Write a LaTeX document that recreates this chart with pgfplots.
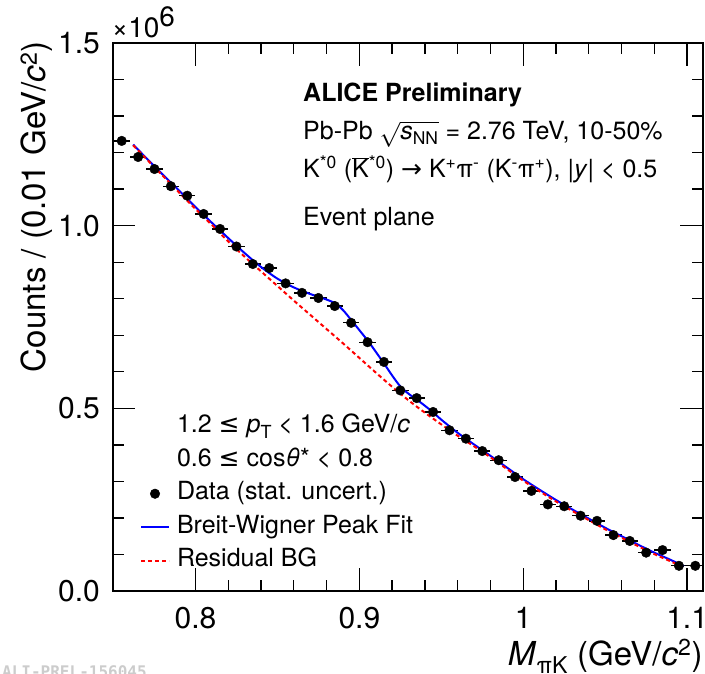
\documentclass[border=0pt]{standalone}
\usepackage{fontspec}
\setmainfont{TeX Gyre Heros}
\newfontfamily\sym{DejaVu Sans}
\newfontfamily\monof{DejaVu Sans Mono}
\usepackage{pgfplots}
\usepackage{pgfplotstable}
\pgfplotsset{compat=1.18}

\pgfplotstableread{
x y
0.755 1.232
0.765 1.188
0.775 1.155
0.785 1.108
0.795 1.082
0.805 1.032
0.815 0.991
0.825 0.943
0.835 0.895
0.845 0.884
0.855 0.842
0.865 0.816
0.875 0.802
0.885 0.780
0.895 0.734
0.905 0.681
0.915 0.627
0.925 0.549
0.935 0.528
0.945 0.490
0.955 0.440
0.965 0.417
0.975 0.383
0.985 0.358
0.995 0.312
1.005 0.274
1.015 0.237
1.025 0.232
1.035 0.206
1.045 0.192
1.055 0.153
1.065 0.137
1.075 0.105
1.085 0.112
1.095 0.069
1.105 0.069
}\datatable

\pgfplotstableread{
x y
0.762 1.222
0.770 1.185
0.780 1.140
0.790 1.096
0.800 1.051
0.810 1.008
0.820 0.966
0.830 0.925
0.840 0.887
0.850 0.855
0.860 0.831
0.870 0.813
0.878 0.801
0.885 0.788
0.890 0.769
0.895 0.742
0.900 0.714
0.905 0.686
0.910 0.655
0.915 0.623
0.920 0.590
0.925 0.560
0.930 0.540
0.935 0.524
0.940 0.507
0.945 0.489
0.950 0.469
0.960 0.433
0.970 0.401
0.980 0.370
0.990 0.338
1.000 0.306
1.010 0.277
1.020 0.249
1.030 0.223
1.040 0.198
1.050 0.173
1.060 0.150
1.070 0.127
1.080 0.105
1.090 0.085
1.098 0.068
}\fittable

\pgfplotstableread{
x y
0.762 1.220
0.770 1.183
0.780 1.137
0.790 1.091
0.800 1.046
0.810 1.002
0.820 0.957
0.830 0.915
0.840 0.875
0.850 0.835
0.860 0.795
0.870 0.756
0.880 0.717
0.890 0.678
0.900 0.638
0.910 0.598
0.920 0.559
0.930 0.522
0.940 0.488
0.950 0.456
0.960 0.425
0.970 0.396
0.980 0.366
0.990 0.334
1.000 0.302
1.010 0.273
1.020 0.245
1.030 0.219
1.040 0.194
1.050 0.169
1.060 0.146
1.070 0.123
1.080 0.101
1.090 0.081
1.098 0.065
}\bgtable

\begin{document}
\begin{tikzpicture}[x=1pt,y=1pt]
\useasboundingbox (-112.7,-82) rectangle (592.3,591);
\begin{axis}[
  at={(0,0)}, anchor=south west,
  scale only axis, width=590pt, height=548pt,
  xmin=0.7495, xmax=1.1095, ymin=0, ymax=1.5,
  xtick={0.8,0.9,1,1.1}, xticklabels={0.8,0.9,1,1.1},
  ytick={0,0.5,1,1.5}, yticklabels={0.0,0.5,1.0,1.5},
  minor x tick num=4, minor y tick num=4,
  tick align=inside,
  major tick length=22.7pt, minor tick length=11pt,
  axis line style={line width=2pt},
  every tick/.style={black, line width=1.3pt},
  tick label style={font=\fontsize{30}{36}\selectfont},
  xticklabel style={inner sep=0pt, yshift=-16pt},
  yticklabel style={inner sep=0pt, xshift=-12.7pt},
  legend cell align=left,
  legend image code/.code={\draw[#1] (0pt,0pt) -- (28pt,0pt);},
  legend style={at={(rel axis cs:0.0463,0.3212)}, anchor=north west,
    draw=none, fill=none, inner sep=0pt, outer sep=0pt,
    column sep=7pt, row sep=10pt,
    font=\fontsize{25}{30}\selectfont,
    nodes={inner sep=0pt, text height=18pt, text depth=5.5pt}},
]
\addlegendimage{empty legend}
\addlegendentry{1.2 {\sym ≤} \textit{p}\raisebox{-6pt}{\fontsize{18}{20}\selectfont T} < 1.6 GeV/\textit{c}}
\addlegendimage{empty legend}
\addlegendentry{0.6 {\sym ≤} cos\textit{θ}* < 0.8}
\addplot[only marks, mark=*, mark size=4.8pt, black,
  legend image code/.code={\fill[black] (14pt,0pt) circle (4.8pt);},
  error bars/.cd, x dir=both, x fixed=0.005,
  error bar style={line width=1.3pt, black}, error mark=none]
  table[x=x, y=y] {\datatable};
\addlegendentry{Data (stat. uncert.)}
\addplot[blue, line width=2pt, smooth, no marks] table[x=x, y=y] {\fittable};
\addlegendentry{Breit-Wigner Peak Fit}
\addplot[red, line width=2pt, dash pattern=on 4pt off 3pt, smooth, no marks] table[x=x, y=y] {\bgtable};
\addlegendentry{Residual BG}
\end{axis}
\node[anchor=base west, inner sep=0pt] at (-1,553) {\fontsize{28}{32}\selectfont ×10\raisebox{11pt}{6}};
\node[anchor=base west, inner sep=0pt, font=\fontsize{25}{30}\selectfont\bfseries] at (190.3,489) {ALICE Preliminary};
\node[anchor=base west, inner sep=0pt, font=\fontsize{25}{30}\selectfont] at (190.3,451) {Pb-Pb $\sqrt{\mbox{\textit{s}\textsubscript{NN}}}$ = 2.76 TeV, 10-50\%};
\node[anchor=base west, inner sep=0pt, font=\fontsize{25}{30}\selectfont] at (190.3,413) {K\textsuperscript{*0} ($\overline{\mbox{K}}$\textsuperscript{*0}) {\sym →} K\textsuperscript{+}π\textsuperscript{-} (K\textsuperscript{-}π\textsuperscript{+}), |\textit{y}| < 0.5};
\node[anchor=base west, inner sep=0pt, font=\fontsize{25}{30}\selectfont] at (190.3,365) {Event plane};
\node[rotate=90, anchor=base east, inner sep=0pt, font=\fontsize{33}{40}\selectfont] at (-66.7,550) {Counts / (0.01 GeV/\textit{c}\textsuperscript{2})};
\node[anchor=base east, inner sep=0pt, font=\fontsize{33}{40}\selectfont] at (590,-74) {\textit{M}\textsubscript{πK} (GeV/\textit{c}\textsuperscript{2})};
\node[anchor=north west, inner sep=0pt, text=gray!40, font=\monof\bfseries\fontsize{16}{18}\selectfont] at (-110.7,-74) {ALI-PREL-156045};
\end{tikzpicture}
\end{document}
